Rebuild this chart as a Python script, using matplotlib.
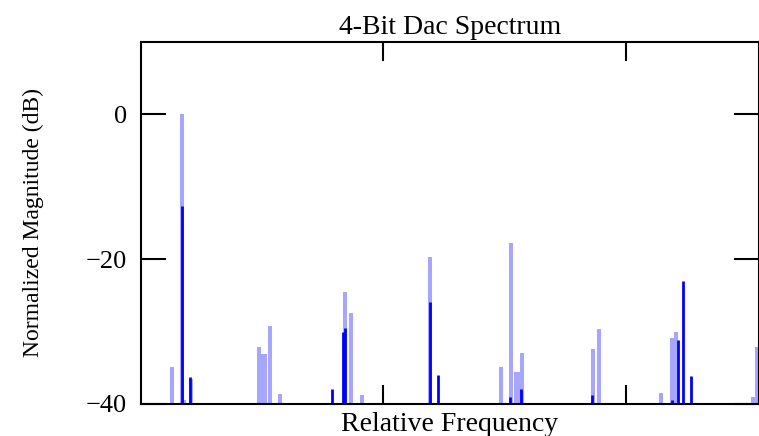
#!/usr/bin/env python3
"""4-Bit DAC spectrum: stem-style spectral lines, two shades of blue."""
import matplotlib
matplotlib.use("Agg")
import matplotlib.pyplot as plt

# light series (wider, pale blue)
light_freq = [0.127, 0.169, 0.177, 0.206, 0.485, 0.499, 0.511, 0.530, 0.573,
              0.841, 0.865, 0.910, 1.190, 1.483, 1.528, 1.545, 1.556, 1.573,
              1.865, 1.889, 2.146, 2.190, 2.208, 2.524, 2.542]
light_db = [-34.9, 0.0, -39.5, -36.6, -32.1, -33.1, -33.1, -29.2, -38.6,
            -24.5, -27.5, -38.8, -19.7, -34.9, -17.7, -35.6, -35.6, -33.0,
            -32.4, -29.7, -38.5, -30.9, -30.1, -39.0, -32.1]

# dark series (narrow, pure blue)
dark_freq = [0.169, 0.204, 0.789, 0.832, 0.841, 1.190, 1.224, 1.522, 1.569,
             1.859, 2.188, 2.213, 2.234, 2.268]
dark_db = [-12.7, -36.3, -37.9, -30.0, -29.5, -25.9, -36.0, -39.0, -37.9,
           -38.8, -39.5, -31.2, -23.0, -36.1]

y_ticks = [-40, -20, 0]
x_ticks = [1, 2]

plt.rcParams["font.family"] = ["Liberation Serif", "DejaVu Serif"]

fig = plt.figure(figsize=(7.59, 4.36), dpi=100)
ax = fig.add_axes([0.1858, 0.0734, 0.8136, 0.8303])

floor = -40
ax.vlines(light_freq, floor, light_db, colors="#a6a6ff", linewidth=2.9)
ax.vlines(dark_freq, floor, dark_db, colors="#0000ff", linewidth=2.0)

ax.set_xlim(0, 2.547)
ax.set_ylim(-40, 10)
ax.set_yticks(y_ticks)
ax.set_xticks(x_ticks)
ax.set_xticklabels([])
ax.tick_params(axis="y", direction="in", length=18, width=1.5, pad=10,
               labelsize=19, left=True, right=True)
ax.tick_params(axis="x", direction="in", length=14, width=1.5,
               bottom=True, top=True)
for s in ax.spines.values():
    s.set_linewidth(1.5)

ax.set_title("4-Bit Dac Spectrum", fontsize=20, pad=6)
ax.set_xlabel("Relative Frequency", fontsize=20, labelpad=2)
ax.set_ylabel("Normalized Magnitude (dB)", fontsize=17, labelpad=30)

fig.savefig("out.png", dpi=100)
